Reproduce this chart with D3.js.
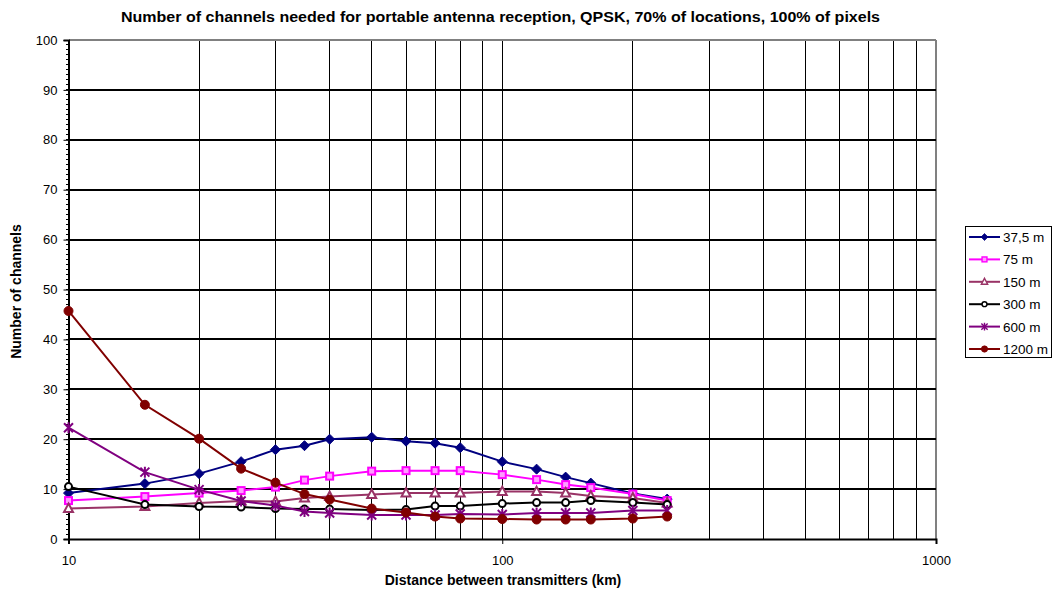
<!DOCTYPE html>
<html>
<head>
<meta charset="utf-8">
<script src="https://cdn.jsdelivr.net/npm/d3@7"></script>
<style>
  html, body { margin: 0; padding: 0; background: #fff; }
  svg { display: block; font-family: "Liberation Sans", Arial, sans-serif; }
</style>
</head>
<body>
<svg id="chart" width="1058" height="592"></svg>
<script>
// Distance between transmitters (km)
const distances = [10, 15, 20, 25, 30, 35, 40, 50, 60, 70, 80, 100, 120, 140, 160, 200, 240];

// Number of channels per pixel size
const ch37_5 = [9.2, 11.1, 13.1, 15.5, 17.9, 18.7, 20.0, 20.4, 19.6, 19.2, 18.3, 15.5, 14.0, 12.4, 11.2, 9.1, 8.0];
const ch75   = [7.7, 8.5, 9.2, 9.7, 10.4, 11.8, 12.6, 13.6, 13.7, 13.7, 13.7, 12.9, 11.9, 10.9, 10.3, 9.0, 7.7];
const ch150  = [6.1, 6.5, 7.2, 7.6, 7.5, 8.2, 8.5, 8.9, 9.2, 9.2, 9.2, 9.5, 9.5, 9.2, 8.6, 8.2, 7.2];
const ch300  = [10.5, 6.9, 6.5, 6.4, 6.1, 6.0, 6.0, 5.8, 5.9, 6.6, 6.6, 7.1, 7.3, 7.3, 7.7, 7.3, 6.9];
const ch600  = [22.3, 13.4, 9.9, 7.6, 6.7, 5.5, 5.2, 4.8, 4.8, 4.8, 5.0, 4.9, 5.2, 5.2, 5.2, 5.7, 5.7];
const ch1200 = [45.7, 26.9, 20.1, 14.1, 11.3, 9.0, 7.9, 6.1, 5.3, 4.5, 4.1, 4.0, 3.9, 3.9, 3.9, 4.1, 4.5];

const seriesNames = ["37,5 m", "75 m", "150 m", "300 m", "600 m", "1200 m"];
const seriesValues = [ch37_5, ch75, ch150, ch300, ch600, ch1200];

const xTickLabels = [10, 100, 1000];
const yTickLabels = [0, 10, 20, 30, 40, 50, 60, 70, 80, 90, 100];

const titleText = "Number of channels needed for portable antenna reception, QPSK, 70% of locations, 100% of pixels";
const xTitle = "Distance between transmitters (km)";
const yTitle = "Number of channels";

// Styling per series
const styles = [
  { color: "#000080", marker: "diamond", fill: "#000080" },
  { color: "#FF00FF", marker: "square",  fill: "#FF9CFF" },
  { color: "#993366", marker: "triangle", fill: "#ffffff" },
  { color: "#000000", marker: "circle",  fill: "#ffffff" },
  { color: "#800080", marker: "star",    fill: "none" },
  { color: "#800000", marker: "dot",     fill: "#800000" }
];

const svg = d3.select("#chart");
const plot = { left: 68.5, right: 936, top: 40, bottom: 539 };

const x = d3.scaleLog().domain([10, 1000]).range([plot.left, plot.right]);
const y = d3.scaleLinear().domain([0, 100]).range([plot.bottom, plot.top]);

// Title
svg.append("text")
  .attr("x", 500.5).attr("y", 22)
  .attr("text-anchor", "middle")
  .attr("font-weight", "bold").attr("font-size", 14)
  .attr("textLength", 759).attr("lengthAdjust", "spacingAndGlyphs")
  .text(titleText);

// Vertical grid lines at every log minor step
const vGrid = [];
for (let d = 10; d < 1000; d *= 10) for (let k = 2; k <= 10; k++) vGrid.push(d * k);
svg.append("g").selectAll("line").data(vGrid).join("line")
  .attr("x1", d => x(d)).attr("x2", d => x(d))
  .attr("y1", plot.top).attr("y2", plot.bottom)
  .attr("stroke", d => d === 1000 ? "#808080" : "#000")
  .attr("stroke-width", d => d === 1000 ? 1.5 : 1)
  .attr("shape-rendering", "crispEdges");

// Horizontal grid lines
svg.append("g").selectAll("line").data(yTickLabels.filter(v => v > 0)).join("line")
  .attr("x1", plot.left).attr("x2", plot.right)
  .attr("y1", d => y(d)).attr("y2", d => y(d))
  .attr("stroke", d => d === 100 ? "#808080" : "#000")
  .attr("stroke-width", 2)
  .attr("shape-rendering", "crispEdges");

// Y axis with minor ticks every 1 unit
const yAxis = d3.axisLeft(y).tickValues(yTickLabels).tickSize(5).tickPadding(6);
const yg = svg.append("g").attr("transform", `translate(${plot.left},0)`).call(yAxis);
yg.select(".domain").attr("stroke", "#000").attr("stroke-width", 2);
yg.selectAll(".tick text").attr("font-size", 13).attr("font-family", "Liberation Sans, Arial, sans-serif").attr("fill", "#000");
svg.append("g").selectAll("line").data(d3.range(0, 101, 1)).join("line")
  .attr("x1", plot.left - 3).attr("x2", plot.left)
  .attr("y1", d => y(d)).attr("y2", d => y(d))
  .attr("stroke", "#000").attr("stroke-width", 1)
  .attr("shape-rendering", "crispEdges");

// X axis
const xAxis = d3.axisBottom(x).tickValues(xTickLabels).tickFormat(d3.format("d")).tickSize(5).tickPadding(12);
const xg = svg.append("g").attr("transform", `translate(0,${plot.bottom})`).call(xAxis);
xg.select(".domain").attr("stroke", "#000").attr("stroke-width", 2);
xg.selectAll(".tick text").attr("font-size", 13).attr("font-family", "Liberation Sans, Arial, sans-serif").attr("fill", "#000");

// Axis titles
svg.append("text")
  .attr("x", 503).attr("y", 585)
  .attr("text-anchor", "middle")
  .attr("font-weight", "bold").attr("font-size", 14)
  .text(xTitle);
svg.append("text")
  .attr("transform", `translate(21,${(plot.top + plot.bottom) / 2 + 2}) rotate(-90)`)
  .attr("text-anchor", "middle")
  .attr("font-weight", "bold").attr("font-size", 14)
  .text(yTitle);

// Marker drawing
function drawMarker(g, type, color, fill) {
  switch (type) {
    case "diamond":
      g.append("path").attr("d", "M0,-5L5,0L0,5L-5,0Z").attr("fill", fill).attr("stroke", color).attr("stroke-width", 1);
      break;
    case "square":
      g.append("rect").attr("x", -3.5).attr("y", -3.5).attr("width", 7).attr("height", 7)
        .attr("fill", fill).attr("stroke", color).attr("stroke-width", 2);
      break;
    case "triangle":
      g.append("path").attr("d", "M0,-5L4.5,3.5L-4.5,3.5Z").attr("fill", fill).attr("stroke", color).attr("stroke-width", 2);
      break;
    case "circle":
      g.append("circle").attr("r", 3.5).attr("fill", fill).attr("stroke", color).attr("stroke-width", 2);
      break;
    case "star":
      g.append("path").attr("d", "M-4.5,-4.5L4.5,4.5M-4.5,4.5L4.5,-4.5M0,-5.5L0,5.5")
        .attr("fill", "none").attr("stroke", color).attr("stroke-width", 2);
      break;
    case "dot":
      g.append("circle").attr("r", 4.5).attr("fill", fill).attr("stroke", color).attr("stroke-width", 1);
      break;
  }
}

const line = d3.line().x(d => x(d[0])).y(d => y(d[1]));

seriesValues.forEach((vals, i) => {
  const pts = distances.map((d, j) => [d, vals[j]]);
  const s = styles[i];
  const g = svg.append("g");
  g.append("path").datum(pts).attr("d", line)
    .attr("fill", "none").attr("stroke", s.color).attr("stroke-width", 2);
  g.selectAll("g.m").data(pts).join("g").attr("class", "m")
    .attr("transform", d => `translate(${x(d[0])},${y(d[1])})`)
    .each(function() { drawMarker(d3.select(this), s.marker, s.color, s.fill); });
});

// Legend
const legend = svg.append("g");
legend.append("rect")
  .attr("x", 965.5).attr("y", 226.5).attr("width", 86).attr("height", 131)
  .attr("fill", "#fff").attr("stroke", "#000").attr("stroke-width", 1);
seriesNames.forEach((name, i) => {
  const ly = 237 + i * 22.4;
  const s = styles[i];
  const g = legend.append("g");
  g.append("line").attr("x1", 969).attr("x2", 1000).attr("y1", ly).attr("y2", ly)
    .attr("stroke", s.color).attr("stroke-width", 2);
  const mg = g.append("g").attr("transform", `translate(984.5,${ly}) scale(0.7)`);
  drawMarker(mg, s.marker, s.color, s.fill);
  g.append("text").attr("x", 1003).attr("y", ly + 5)
    .attr("font-size", 13.5).text(name);
});
</script>
</body>
</html>
